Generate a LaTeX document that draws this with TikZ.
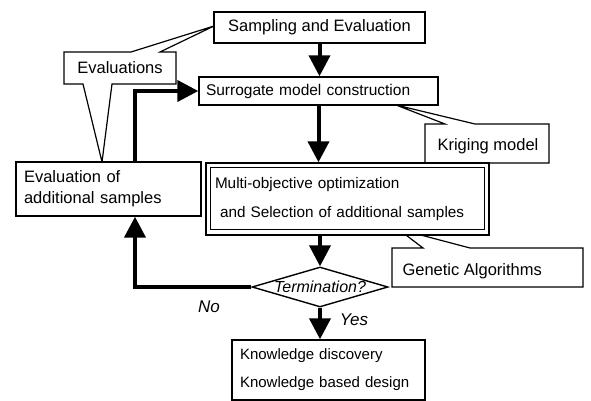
\documentclass[tikz,border=0pt]{standalone}
\usepackage{fontspec}
\setmainfont{Liberation Sans}
\usetikzlibrary{arrows.meta, calc, shapes.geometric}

\begin{document}
\begin{tikzpicture}[x=1pt, y=-1pt,
    box/.style={draw, line width=1.4pt, fill=white, inner sep=0pt, align=left},
    callout/.style={draw, line width=1.2pt, fill=white},
    flow/.style={line width=4pt, -{Triangle[length=21pt, width=21pt]}},
    lbl/.style={font=\fontsize{17}{20}\selectfont\itshape},
  ]
    \useasboundingbox (0, 0) rectangle (591, 401);

    % callouts
    \draw [callout] (64, 52) to (131, 52) to (214, 26) to (160, 52) to (176, 52)
      to (176, 84) to (112, 84) to (102, 162) to (83, 84) to (64, 84) to cycle;
    \node [font=\fontsize{16.5}{19}\selectfont] (evals) at (120, 68) {Evaluations};

    \draw [callout] (425, 124) to (445, 124) to (396, 105) to (475, 124) to (549, 124)
      to (549, 163) to (425, 163) to cycle;
    \node [font=\fontsize{16.5}{19}\selectfont] (krig) at (488, 146) {Kriging model};

    \draw [callout] (392, 248) to (423, 248) to (398, 229) to (470, 248) to (583, 248)
      to (583, 287) to (392, 287) to cycle;
    \node [font=\fontsize{16.5}{19}\selectfont, anchor=west] (ga) at (399, 271) {Genetic Algorithms};

    % boxes
    \node [box, minimum width=211pt, minimum height=31pt, align=center,
      font=\fontsize{16.5}{19}\selectfont] (samp) at (319.5, 27.5) {Sampling and Evaluation};

    \node [box, text width=225pt, inner xsep=7pt, minimum height=28pt,
      font=\fontsize{15.5}{18}\selectfont] (surr) at (318.5, 91) {Surrogate model construction};

    \node [box, text width=169pt, inner xsep=8pt, minimum height=54pt,
      font=\fontsize{16.5}{19}\selectfont] (evalbox) at (108.5, 189)
      {Evaluation of\\[2pt]additional samples};

    \node [box, text width=265pt, inner xsep=9pt, minimum height=72pt,
      font=\fontsize{15.3}{18}\selectfont] (multi) at (347.5, 199)
      {Multi-objective optimization\\[11pt]\hspace{5pt}and Selection of additional samples};
    \draw [line width=1.4pt] ($(multi.north west)+(5, 5)$) rectangle ($(multi.south east)+(-5, -6)$);

    \node [box, text width=177pt, inner xsep=8pt, minimum height=60pt,
      font=\fontsize{15}{18}\selectfont] (know) at (328.5, 370)
      {Knowledge discovery\\[10pt]Knowledge based design};

    \node [draw, diamond, line width=1.4pt, fill=white, inner sep=0pt,
      minimum width=136pt, minimum height=40pt] (term) at (320, 287) {};
    \node [font=\fontsize{16}{19}\selectfont\itshape] (termtext) at (term) {Termination?};

    % flow
    \draw [flow] (samp.south) to (samp.south |- surr.north);
    \draw [flow] (surr.south) to (surr.south |- multi.north);
    \draw [flow] (multi.south -| term.north) to (term.north);
    \draw [flow] (term.south) to (term.south |- know.north);

    \coordinate (noturn) at (135, 287);
    \draw [flow] (term.west) to (noturn) to (noturn |- evalbox.south);
    \draw [flow] (evalbox.north -| noturn) |- (surr.west);

    \node [lbl] (no) at (209, 307) {No};
    \node [lbl] (yes) at (354, 320) {Yes};

  \end{tikzpicture}
\end{document}
